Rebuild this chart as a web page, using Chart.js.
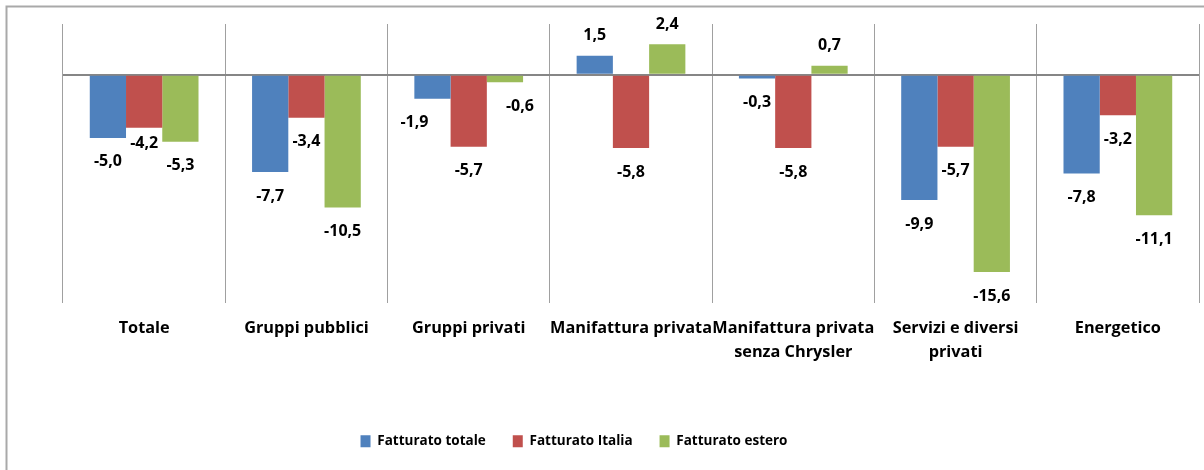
<!DOCTYPE html>
<html><head><meta charset="utf-8">
<script src="https://cdn.jsdelivr.net/npm/chart.js@4"></script>
<style>html,body{margin:0;padding:0;background:#fff;}canvas{display:block;}</style>
</head><body><canvas id="c" width="1204" height="470"></canvas>
<script>
const categories = ['Totale', 'Gruppi pubblici', 'Gruppi privati', 'Manifattura privata', ['Manifattura privata', 'senza Chrysler'], ['Servizi e diversi', 'privati'], 'Energetico'];
const seriesNames = ['Fatturato totale', 'Fatturato Italia', 'Fatturato estero'];
const fatturatoTotale = [-5.0, -7.7, -1.9, 1.5, -0.3, -9.9, -7.8];
const fatturatoItalia = [-4.2, -3.4, -5.7, -5.8, -5.8, -5.7, -3.2];
const fatturatoEstero = [-5.3, -10.5, -0.6, 2.4, 0.7, -15.6, -11.1];
const yMin = -18, yMax = 4, yStep = 2;

const FONT = '"Open Sans", "Liberation Sans", sans-serif';

const labelPlugin = {
  id: 'valueLabels',
  afterLayout(chart, args, opts) {
    const lg = chart.legend;
    if (lg) { lg.left += opts.legendShift; lg.right += opts.legendShift; }
  },
  beforeDraw(chart) {
    const c = chart.ctx;
    c.save();
    c.strokeStyle = '#a9a9a9';
    c.lineWidth = 2;
    c.beginPath();
    c.moveTo(6.5, 470); c.lineTo(6.5, 6.5); c.lineTo(1204, 6.5);
    c.stroke();
    c.restore();
  },
  afterDatasetsDraw(chart, args, opts) {
    const ctx = chart.ctx;
    ctx.save();
    ctx.font = 'bold 16px ' + FONT;
    ctx.fillStyle = '#000';
    ctx.textAlign = 'center';
    ctx.textBaseline = 'middle';
    chart.data.datasets.forEach((ds, di) => {
      chart.getDatasetMeta(di).data.forEach((bar, i) => {
        const v = ds.data[i];
        const n = opts.nudges[di + '-' + i] || [0, 0];
        const y = bar.y + (v < 0 ? opts.below : -opts.above) + n[1];
        ctx.fillText(v.toFixed(1).replace('.', ','), bar.x + n[0], y);
      });
    });
    ctx.restore();
  }
};

function draw() {
  new Chart(document.getElementById('c'), {
    type: 'bar',
    data: {
      labels: categories,
      datasets: [
        { label: seriesNames[0], data: fatturatoTotale, backgroundColor: '#4F81BD' },
        { label: seriesNames[1], data: fatturatoItalia, backgroundColor: '#C0504D' },
        { label: seriesNames[2], data: fatturatoEstero, backgroundColor: '#9BBB59' }
      ]
    },
    options: {
      responsive: false,
      animation: false,
      layout: { padding: { left: 63, right: 5, top: 24, bottom: 12 } },
      datasets: { bar: { categoryPercentage: 0.67, barPercentage: 1.0 } },
      scales: {
        x: {
          grid: { display: true, offset: true, color: '#a0a0a0', lineWidth: 1, drawTicks: false },
          border: { display: false },
          ticks: { color: '#000', padding: 14, maxRotation: 0, autoSkip: false,
                   font: { family: FONT, size: 16.3, weight: 'bold', lineHeight: 24 / 16.3 } },
          afterFit(s) { s.height = 105; }
        },
        y: {
          min: yMin, max: yMax,
          ticks: { display: false, stepSize: yStep },
          grid: { drawTicks: false, lineWidth: 2, color: (c) => (c.tick && c.tick.value === 0 ? '#868686' : 'rgba(0,0,0,0)') },
          border: { display: false },
          afterFit(s) { s.width = 0; }
        }
      },
      plugins: {
        legend: {
          position: 'bottom',
          labels: { boxWidth: 10, boxHeight: 12, padding: 27, color: '#000',
                    font: { family: FONT, size: 13.5, weight: 'bold' } }
        },
        tooltip: { enabled: false },
        valueLabels: { below: 24, above: 20, legendShift: -57,
                       nudges: { '1-0': [0, -8], '0-2': [-18, 0], '2-2': [15, 0] } }
      }
    },
    plugins: [labelPlugin]
  });
}
if (document.fonts && document.fonts.load) {
  Promise.all([document.fonts.load('bold 16px "Open Sans"')]).then(draw, draw);
} else { draw(); }
</script></body></html>
